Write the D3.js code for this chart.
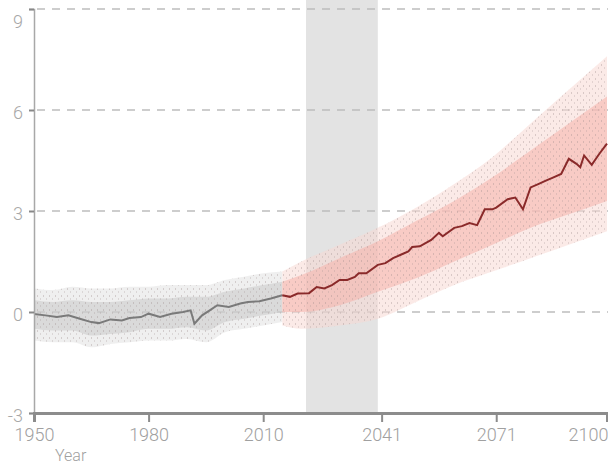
<!DOCTYPE html>
<html>
<head>
<meta charset="utf-8">
<script src="https://cdn.jsdelivr.net/npm/d3@7"></script>
<style>
  body { margin: 0; background: #fff; }
  text { font-family: Roboto, "Liberation Sans", sans-serif; font-weight: 300; }
</style>
</head>
<body>
<div id="chart"></div>
<script>
// tick labels
const yearTicks = [1950, 1980, 2010, 2041, 2071, 2100];
const valueTicks = [-3, 0, 3, 6, 9];

// highlighted period
const periodStart = 2021.2;
const periodEnd = 2040;

// historical mean
const histYears = [1950, 1953, 1956, 1959, 1962, 1965, 1967, 1970, 1973, 1975, 1978, 1980, 1983, 1986, 1989, 1991, 1992, 1994, 1996, 1998, 2001, 2004, 2006, 2009, 2012, 2015];
const histMean = [-0.06, -0.1, -0.15, -0.1, -0.2, -0.3, -0.33, -0.22, -0.25, -0.18, -0.15, -0.05, -0.15, -0.05, 0.0, 0.05, -0.35, -0.1, 0.05, 0.2, 0.15, 0.25, 0.3, 0.32, 0.4, 0.5];

// historical spread
const histBandYears = [1950, 1955, 1960, 1965, 1970, 1975, 1980, 1985, 1990, 1995, 2000, 2005, 2010, 2015];
const histLow = [-0.85, -0.9, -0.9, -1.05, -0.95, -0.9, -0.85, -0.85, -0.8, -0.9, -0.6, -0.5, -0.4, -0.3];
const histHigh = [0.7, 0.65, 0.75, 0.7, 0.7, 0.75, 0.75, 0.8, 0.8, 0.8, 0.95, 1.05, 1.15, 1.2];
const histInLow = [-0.5, -0.55, -0.55, -0.7, -0.65, -0.6, -0.5, -0.5, -0.45, -0.55, -0.3, -0.2, -0.1, 0.0];
const histInHigh = [0.35, 0.3, 0.35, 0.3, 0.3, 0.35, 0.4, 0.4, 0.45, 0.45, 0.6, 0.7, 0.8, 0.9];

// projection mean
const futYears = [2015, 2017, 2019, 2022, 2024, 2026, 2028, 2030, 2032, 2034, 2035, 2037, 2040, 2042, 2044, 2046, 2048, 2049, 2051, 2054, 2056, 2057, 2060, 2062, 2064, 2066, 2068, 2070, 2071, 2074, 2076, 2078, 2080, 2082, 2084, 2086, 2088, 2090, 2092, 2093, 2094, 2096, 2098, 2100];
const futMean = [0.5, 0.45, 0.55, 0.56, 0.74, 0.7, 0.8, 0.95, 0.95, 1.04, 1.15, 1.15, 1.4, 1.45, 1.6, 1.7, 1.8, 1.93, 1.95, 2.14, 2.35, 2.25, 2.5, 2.55, 2.64, 2.58, 3.05, 3.05, 3.1, 3.35, 3.4, 3.05, 3.7, 3.8, 3.9, 4.0, 4.1, 4.55, 4.4, 4.3, 4.65, 4.37, 4.7, 5.0];

// projection spread
const futBandYears = [2015, 2020, 2030, 2040, 2050, 2060, 2070, 2080, 2090, 2100];
const futLow = [-0.4, -0.5, -0.4, -0.2, 0.3, 0.8, 1.2, 1.6, 2.0, 2.4];
const futHigh = [1.2, 1.5, 2.0, 2.5, 3.1, 3.8, 4.6, 5.6, 6.6, 7.6];
const futInLow = [0.0, 0.0, 0.2, 0.6, 1.0, 1.5, 2.0, 2.5, 2.9, 3.3];
const futInHigh = [0.9, 1.1, 1.6, 2.1, 2.7, 3.3, 4.0, 4.8, 5.6, 6.4];

const W = 608, H = 465;
const margin = { top: 9, right: 1, bottom: 52, left: 34 };

const x = d3.scaleLinear().domain([1950, 2100]).range([margin.left, W - margin.right]);
const y = d3.scaleLinear().domain([-3, 9]).range([H - margin.bottom, margin.top]);

const svg = d3.select("#chart").append("svg").attr("width", W).attr("height", H);

// speckle texture for the ensemble spread
const defs = svg.append("defs");
const pat = defs.append("pattern").attr("id", "speckle")
  .attr("width", 6).attr("height", 7).attr("patternUnits", "userSpaceOnUse");
pat.append("rect").attr("x", 1).attr("y", 1).attr("width", 1).attr("height", 2).attr("fill", "#9a8a8a").attr("opacity", 0.35);
pat.append("rect").attr("x", 4).attr("y", 4).attr("width", 1).attr("height", 2).attr("fill", "#9a8a8a").attr("opacity", 0.25);

// period shading
svg.append("rect")
  .attr("x", x(periodStart)).attr("y", 0)
  .attr("width", x(periodEnd) - x(periodStart))
  .attr("height", y(-3))
  .attr("fill", "#e3e3e3");

// dashed grid
svg.append("g").selectAll("line")
  .data(valueTicks.filter(d => d > -3))
  .join("line")
  .attr("x1", x(1950) + 3).attr("x2", W)
  .attr("y1", d => y(d)).attr("y2", d => y(d))
  .attr("stroke", "#bdbdbd").attr("stroke-width", 1.5)
  .attr("stroke-dasharray", "8,7");

const band = (ys, lo, hi) => d3.area()
  .x((d, i) => x(ys[i]))
  .y0((d, i) => y(lo[i]))
  .y1((d, i) => y(hi[i]))
  .curve(d3.curveMonotoneX)(ys);

// spread bands
svg.append("path").attr("d", band(histBandYears, histLow, histHigh)).attr("fill", "#dcdcdc").attr("opacity", 0.45);
svg.append("path").attr("d", band(histBandYears, histInLow, histInHigh)).attr("fill", "#c8c8c8").attr("opacity", 0.55);
svg.append("path").attr("d", band(histBandYears, histLow, histHigh)).attr("fill", "url(#speckle)");
svg.append("path").attr("d", band(futBandYears, futLow, futHigh)).attr("fill", "#f8d8d4").attr("opacity", 0.55);
svg.append("path").attr("d", band(futBandYears, futInLow, futInHigh)).attr("fill", "#f6b0a9").attr("opacity", 0.55);
svg.append("path").attr("d", band(futBandYears, futLow, futHigh)).attr("fill", "url(#speckle)");

const line = d3.line().x(d => x(d[0])).y(d => y(d[1]));

svg.append("path")
  .attr("d", line(histYears.map((d, i) => [d, histMean[i]])))
  .attr("fill", "none").attr("stroke", "#7a7a7a").attr("stroke-width", 2);

svg.append("path")
  .attr("d", line(futYears.map((d, i) => [d, futMean[i]])))
  .attr("fill", "none").attr("stroke", "#8a2a2a").attr("stroke-width", 2);

// y axis
const yAxis = svg.append("g")
  .attr("transform", `translate(${margin.left},0)`)
  .call(d3.axisLeft(y).tickValues(valueTicks).tickFormat(d => String(d)).tickSize(5).tickPadding(6));
yAxis.select(".domain").attr("stroke", "#a8a8a8").attr("stroke-width", 1.5);
yAxis.selectAll(".tick line").attr("stroke", "#888").attr("stroke-width", 2);
yAxis.selectAll(".tick text").attr("fill", "#a8a8a8").style("font-size", "18px")
  .style("font-family", "Roboto, sans-serif").style("font-weight", 300)
  .attr("dy", d => d === 9 ? "1.0em" : "0.45em");

// x axis
const xAxis = svg.append("g")
  .attr("transform", `translate(0,${y(-3)})`)
  .call(d3.axisBottom(x).tickValues(yearTicks).tickFormat(d3.format("d")).tickSize(9).tickPadding(6));
xAxis.select(".domain").attr("stroke", "#8c8c8c").attr("stroke-width", 3);
xAxis.selectAll(".tick line").attr("stroke", "#8c8c8c").attr("stroke-width", 2);
xAxis.selectAll(".tick text").attr("fill", "#a0a0a0").style("font-size", "18px")
  .style("font-family", "Roboto, sans-serif").style("font-weight", 300)
  .attr("text-anchor", d => d === 2100 ? "end" : "middle")
  .attr("dx", d => d === 2100 ? 1 : 0);

svg.append("text")
  .attr("x", 55).attr("y", 461)
  .attr("fill", "#a0a0a0")
  .style("font-size", "16px")
  .text("Year");
</script>
</body>
</html>
